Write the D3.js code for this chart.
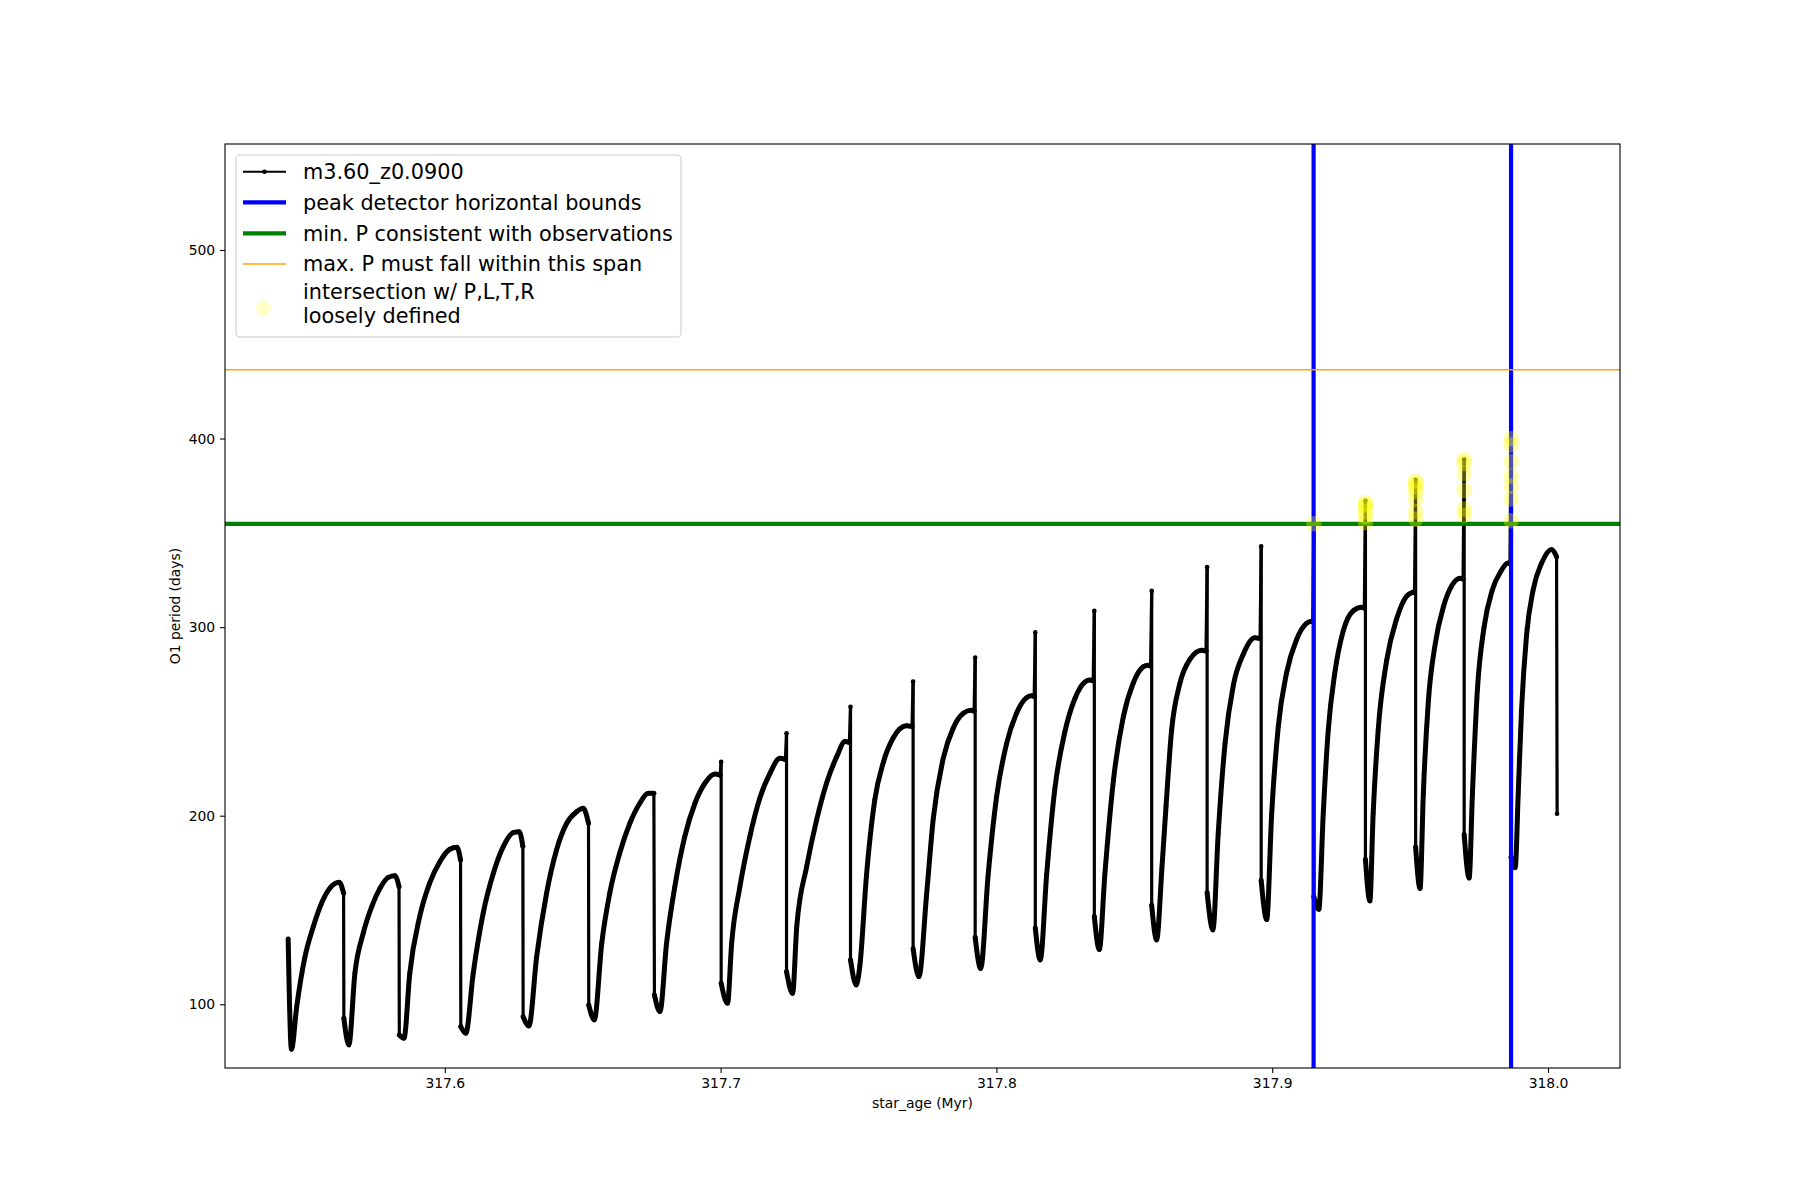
<!DOCTYPE html>
<html>
<head>
<meta charset="utf-8">
<script src="https://cdn.jsdelivr.net/npm/d3@7"></script>
<style>
  body { margin: 0; background: #fff; }
  text { font-family: "DejaVu Sans", sans-serif; fill: #000; }
</style>
</head>
<body>
<svg id="chart" width="1800" height="1200"></svg>
<script>
// series: star age (Myr) and O1 period (days)
const starAge = [
  317.5432, 317.5444, 317.5463, 317.5493, 317.5523, 317.5553, 317.5583, 317.5617, 317.5633, 317.5634, 317.5652,
  317.5674, 317.5704, 317.5735, 317.5765, 317.5795, 317.5819, 317.5834, 317.5835, 317.5852,
  317.5873, 317.5909, 317.5945, 317.5982, 317.6018, 317.6044, 317.6057, 317.6058, 317.6076,
  317.6103, 317.6139, 317.6176, 317.6212, 317.6248, 317.6270, 317.6283, 317.6284, 317.6305,
  317.6333, 317.6369, 317.6405, 317.6442, 317.6478, 317.6502, 317.6521, 317.6522, 317.6542,
  317.6569, 317.6598, 317.6634, 317.6671, 317.6707, 317.6737, 317.6758, 317.6760, 317.6780,
  317.6804, 317.6834, 317.6870, 317.6907, 317.6943, 317.6979, 317.6998, 317.7002, 317.7002, 317.7025,
  317.7040, 317.7070, 317.7106, 317.7142, 317.7179, 317.7215, 317.7235, 317.7239, 317.7239, 317.7261,
  317.7276, 317.7312, 317.7348, 317.7384, 317.7421, 317.7451, 317.7467, 317.7471, 317.7471, 317.7492,
  317.7505, 317.7529, 317.7559, 317.7590, 317.7626, 317.7674, 317.7694, 317.7698, 317.7698, 317.7719,
  317.7747, 317.7771, 317.7807, 317.7843, 317.7880, 317.7908, 317.7919, 317.7923, 317.7923, 317.7943,
  317.7970, 317.8001, 317.8037, 317.8073, 317.8110, 317.8128, 317.8137, 317.8141, 317.8141, 317.8159,
  317.8182, 317.8212, 317.8248, 317.8285, 317.8321, 317.8339, 317.8351, 317.8355, 317.8355, 317.8373,
  317.8393, 317.8424, 317.8460, 317.8496, 317.8532, 317.8550, 317.8559, 317.8563, 317.8563, 317.8581,
  317.8600, 317.8615, 317.8635, 317.8665, 317.8702, 317.8744, 317.8760, 317.8764, 317.8764, 317.8785,
  317.8804, 317.8829, 317.8859, 317.8895, 317.8937, 317.8956, 317.8960, 317.8960, 317.8980,
  317.8998, 317.9022, 317.9052, 317.9088, 317.9125, 317.9143, 317.9147, 317.9151, 317.9151, 317.9169,
  317.9185, 317.9203, 317.9227, 317.9257, 317.9294, 317.9324, 317.9334, 317.9338, 317.9338, 317.9354,
  317.9366, 317.9384, 317.9415, 317.9451, 317.9487, 317.9511, 317.9516, 317.9520, 317.9520, 317.9536,
  317.9548, 317.9566, 317.9591, 317.9621, 317.9651, 317.9681, 317.9692, 317.9696, 317.9696, 317.9714,
  317.9726, 317.9744, 317.9768, 317.9798, 317.9829, 317.9855, 317.9862, 317.9866, 317.9866, 317.9881,
  317.9892, 317.9904, 317.9922, 317.9946, 317.9977, 318.0013, 318.0031, 318.0033
]
const o1Period = [
  134.6, 76.1, 98.7, 125.2, 141.1, 153.6, 161.5, 164.7, 158.9, 92.6, 78.4,
  116.4, 137.6, 151.8, 161.5, 167.3, 168.2, 162.4, 83.7, 82.0,
  116.4, 146.5, 164.2, 175.6, 182.2, 183.3, 176.5, 88.1, 84.6,
  116.4, 148.3, 169.5, 183.6, 191.0, 191.5, 183.6, 93.4, 88.5,
  125.2, 158.9, 181.8, 196.0, 202.1, 203.9, 196.0, 99.6, 91.7,
  132.3, 158.9, 180.1, 196.0, 206.6, 211.9, 211.9, 104.9, 96.1,
  132.3, 162.4, 188.9, 206.6, 217.2, 222.1, 221.5, 228.6, 111.1, 100.5,
  132.3, 162.4, 188.9, 209.2, 222.5, 230.4, 229.8, 243.7, 117.3, 105.8,
  141.1, 173.0, 197.7, 217.2, 231.3, 239.3, 238.8, 257.8, 123.5, 110.2,
  120.6, 168.5, 208.4, 228.3, 241.3, 247.7, 247.2, 271.2, 129.5, 114.6,
  158.5, 198.4, 230.3, 246.3, 254.3, 255.9, 255.4, 283.9, 135.5, 119.0,
  168.5, 210.4, 238.3, 254.3, 262.7, 263.6, 263.2, 297.2, 140.5, 123.5,
  168.5, 214.4, 244.3, 262.3, 270.9, 271.9, 271.4, 308.6, 146.5, 129.0,
  168.5, 218.4, 252.3, 270.3, 278.9, 279.8, 279.3, 319.2, 152.5, 134.1,
  172.0, 205.0, 245.0, 270.0, 283.0, 287.8, 287.3, 331.8, 159.2, 139.4,
  190.0, 238.3, 269.2, 285.6, 294.4, 294.0, 342.8, 165.8, 144.9,
  201.0, 247.2, 275.7, 293.3, 302.1, 303.2, 302.8, 355.0, 157.0, 150.4,
  201.0, 245.0, 275.7, 297.7, 308.7, 310.5, 310.0, 367.0, 176.8, 154.8,
  201.0, 245.0, 282.3, 304.3, 316.4, 318.6, 318.2, 378.0, 183.4, 161.4,
  212.0, 260.4, 291.1, 310.9, 321.9, 325.9, 325.5, 388.9, 190.0, 166.9,
  212.0, 266.9, 299.9, 319.7, 329.6, 334.0, 333.6, 400.0, 178.0, 172.4,
  212.0, 256.0, 295.5, 319.7, 334.0, 341.2, 337.3, 201.0
]

// points flagged as intersections (yellow)
const hlAge = [
  317.9151,
  317.9338, 317.9338, 317.9338, 317.9338, 317.9338, 317.9338,
  317.9520, 317.9520, 317.9520, 317.9520, 317.9520, 317.9520, 317.9520,
  317.9696, 317.9696, 317.9696, 317.9696, 317.9696, 317.9696,
  317.9866, 317.9866, 317.9866, 317.9866, 317.9866, 317.9866, 317.9866
]
const hlPeriod = [
  354.8,
  366.0, 365.0, 363.8, 361.2, 358.6, 355.4,
  377.7, 376.0, 374.5, 371.8, 367.8, 361.2, 357.2,
  388.9, 386.8, 381.3, 372.5, 362.6, 359.3,
  399.9, 396.6, 387.8, 380.1, 374.7, 368.0, 356.4
]

const boundAges = [317.915, 317.9866]
const minPeriod = 354.7
const maxPeriod = 436.5

const xTicks = [317.6, 317.7, 317.8, 317.9, 318.0]
const yTicks = [100, 200, 300, 400, 500]

const legendLabels = [
  ['m3.60_z0.0900'],
  ['peak detector horizontal bounds'],
  ['min. P consistent with observations'],
  ['max. P must fall within this span'],
  ['intersection w/ P,L,T,R', 'loosely defined']
]

// layout
const axL = 225, axR = 1620, axT = 144, axB = 1068

const x = d3.scaleLinear().domain([317.5203, 318.0261]).range([axL, axR])
const y = d3.scaleLinear().domain([66.2, 556.2]).range([axB, axT])

const svg = d3.select('#chart')

svg.append('defs').append('clipPath').attr('id', 'plot')
  .append('rect')
  .attr('x', axL).attr('y', axT)
  .attr('width', axR - axL).attr('height', axB - axT)

const plot = svg.append('g').attr('clip-path', 'url(#plot)')

// split series into gradual runs (thick, dense markers) and near vertical jumps
const pts = starAge.map((t, i) => [t, o1Period[i]])
const runs = []
const jumps = []
let cur = [pts[0]]
for (let i = 1; i < pts.length; i++) {
  const dx = x(pts[i][0]) - x(pts[i - 1][0])
  if (dx > 1.4) {
    cur.push(pts[i])
  } else {
    jumps.push([pts[i - 1], pts[i]])
    if (cur.length > 1) runs.push(cur)
    cur = [pts[i]]
  }
}
if (cur.length > 1) runs.push(cur)

const line = d3.line()
  .x(d => x(d[0]))
  .y(d => y(d[1]))
  .curve(d3.curveMonotoneX)

plot.selectAll('path.run')
  .data(runs)
  .enter()
  .append('path')
  .attr('class', 'run')
  .attr('d', line)
  .attr('fill', 'none')
  .attr('stroke', '#000')
  .attr('stroke-width', 5)
  .attr('stroke-linecap', 'round')
  .attr('stroke-linejoin', 'round')

plot.selectAll('line.jump')
  .data(jumps)
  .enter()
  .append('line')
  .attr('class', 'jump')
  .attr('x1', d => x(d[0][0]))
  .attr('y1', d => y(d[0][1]))
  .attr('x2', d => x(d[1][0]))
  .attr('y2', d => y(d[1][1]))
  .attr('stroke', '#000')
  .attr('stroke-width', 3.2)
  .attr('stroke-linecap', 'round')

plot.selectAll('circle.pt')
  .data(pts)
  .enter()
  .append('circle')
  .attr('class', 'pt')
  .attr('cx', d => x(d[0]))
  .attr('cy', d => y(d[1]))
  .attr('r', 2.3)
  .attr('fill', '#000')

// bounds
plot.selectAll('line.bound')
  .data(boundAges)
  .enter()
  .append('line')
  .attr('class', 'bound')
  .attr('x1', d => x(d)).attr('x2', d => x(d))
  .attr('y1', axT).attr('y2', axB)
  .attr('stroke', '#0000ff')
  .attr('stroke-width', 4.2)

plot.append('line')
  .attr('x1', axL).attr('x2', axR)
  .attr('y1', y(minPeriod)).attr('y2', y(minPeriod))
  .attr('stroke', '#008000')
  .attr('stroke-width', 4.2)

plot.append('line')
  .attr('x1', axL).attr('x2', axR)
  .attr('y1', y(maxPeriod)).attr('y2', y(maxPeriod))
  .attr('stroke', '#ffa500')
  .attr('stroke-width', 1.5)

plot.selectAll('circle.hl')
  .data(hlAge)
  .enter()
  .append('circle')
  .attr('class', 'hl')
  .attr('cx', d => x(d))
  .attr('cy', (d, i) => y(hlPeriod[i]))
  .attr('r', 7.8)
  .attr('fill', '#ffff00')
  .attr('fill-opacity', 0.32)

// axes
const xAxis = d3.axisBottom(x).tickValues(xTicks).tickFormat(d3.format('.1f'))
  .tickSizeOuter(0).tickSize(4.9).tickPadding(4.9)
const yAxis = d3.axisLeft(y).tickValues(yTicks).tickFormat(d3.format('d'))
  .tickSizeOuter(0).tickSize(4.9).tickPadding(4.9)

const gx = svg.append('g').attr('transform', 'translate(0,' + axB + ')').call(xAxis)
const gy = svg.append('g').attr('transform', 'translate(' + axL + ',0)').call(yAxis)
;[gx, gy].forEach(g => {
  g.select('.domain').remove()
  g.selectAll('.tick line').attr('stroke', '#000').attr('stroke-width', 1.1)
  g.selectAll('.tick text').attr('font-size', 13.9).attr('font-family', '"DejaVu Sans", sans-serif').attr('fill', '#000')
})

svg.append('rect')
  .attr('x', axL).attr('y', axT)
  .attr('width', axR - axL).attr('height', axB - axT)
  .attr('fill', 'none')
  .attr('stroke', '#000')
  .attr('stroke-width', 1.1)

svg.append('text')
  .attr('x', (axL + axR) / 2)
  .attr('y', 1108)
  .attr('text-anchor', 'middle')
  .attr('font-size', 13.9)
  .text('star_age (Myr)')

svg.append('text')
  .attr('transform', 'translate(179.5,' + (axT + axB) / 2 + ') rotate(-90)')
  .attr('text-anchor', 'middle')
  .attr('font-size', 13.9)
  .text('O1 period (days)')

// legend
const lg = svg.append('g')
lg.append('rect')
  .attr('x', 236).attr('y', 155)
  .attr('width', 445).attr('height', 182)
  .attr('rx', 4).attr('ry', 4)
  .attr('fill', '#fff').attr('fill-opacity', 0.8)
  .attr('stroke', '#cccccc').attr('stroke-width', 1.1)

const rowY = [171.7, 202.3, 233.3, 264, 292]
const hx1 = 243, hx2 = 286, tx = 303

lg.append('line').attr('x1', hx1).attr('x2', hx2).attr('y1', rowY[0]).attr('y2', rowY[0])
  .attr('stroke', '#000').attr('stroke-width', 2.1)
lg.append('circle').attr('cx', (hx1 + hx2) / 2).attr('cy', rowY[0]).attr('r', 2.3).attr('fill', '#000')
lg.append('line').attr('x1', hx1).attr('x2', hx2).attr('y1', rowY[1]).attr('y2', rowY[1])
  .attr('stroke', '#0000ff').attr('stroke-width', 4.2)
lg.append('line').attr('x1', hx1).attr('x2', hx2).attr('y1', rowY[2]).attr('y2', rowY[2])
  .attr('stroke', '#008000').attr('stroke-width', 4.2)
lg.append('line').attr('x1', hx1).attr('x2', hx2).attr('y1', rowY[3]).attr('y2', rowY[3])
  .attr('stroke', '#ffa500').attr('stroke-width', 1.5)
lg.append('circle').attr('cx', (hx1 + hx2) / 2 - 1).attr('cy', 308).attr('r', 7.5)
  .attr('fill', '#ffff00').attr('fill-opacity', 0.22)

legendLabels.forEach((lines, i) => {
  lines.forEach((s, j) => {
    lg.append('text')
      .attr('x', tx)
      .attr('y', rowY[i] + j * 24)
      .attr('dy', '0.36em')
      .attr('font-size', 20.8)
      .text(s)
  })
})
</script>
</body>
</html>
